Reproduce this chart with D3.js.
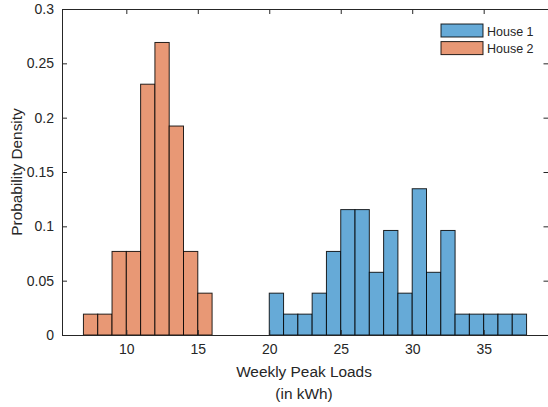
<!DOCTYPE html>
<html>
<head>
<meta charset="utf-8">
<script src="https://cdn.jsdelivr.net/npm/d3@7"></script>
<style>
  body { margin: 0; background: #fff; }
  text { font-family: "Liberation Sans", Arial, sans-serif; fill: #262626; }
</style>
</head>
<body>
<script>
/* histogramme des pics de charge hebdomadaires */

var widthMax = 548;
var heightMax = 407;

// bins de largeur 1 (bord gauche) et densites
var house1Edges = [20, 21, 22, 23, 24, 25, 26, 27, 28, 29, 30, 31, 32, 33, 34, 35, 36, 37];
var house1Density = [0.0385, 0.0192, 0.0192, 0.0385, 0.0769, 0.1154, 0.1154, 0.0577, 0.0962,
	0.0385, 0.1346, 0.0577, 0.0962, 0.0192, 0.0192, 0.0192, 0.0192, 0.0192];
var house2Edges = [7, 8, 9, 10, 11, 12, 13, 14, 15];
var house2Density = [0.0192, 0.0192, 0.0769, 0.0769, 0.2308, 0.2692, 0.1923, 0.0769, 0.0385];
var binWidth = 1;

var xTicks = [10, 15, 20, 25, 30, 35];
var yTicks = [0, 0.05, 0.1, 0.15, 0.2, 0.25, 0.3];
var yTickLabels = ["0", "0.05", "0.1", "0.15", "0.2", "0.25", "0.3"];
var seriesNames = ["House 1", "House 2"];
var seriesColors = ["#66aad7", "#e89875"];

// "top" est reserve par window -> autres noms
// le bord droit de la boite tombe juste hors de l'image
var plotLeft = 62, plotTop = 9, plotRight = 548, plotBottom = 335;
var axisColor = "#262626";
var tickLen = 5;

var svgContainer = d3.select("body").append("svg")
	.attr("width", widthMax)
	.attr("height", heightMax);

var x = d3.scaleLinear().domain([5.5, 39.5]).range([plotLeft, plotRight]);
var y = d3.scaleLinear().domain([0, 0.3]).range([plotBottom, plotTop]);

function drawBars(edges, dens, color) {
	svgContainer.append("g").selectAll("rect")
		.data(edges)
		.enter().append("rect")
		.attr("x", function(d) { return x(d); })
		.attr("y", function(d, i) { return y(dens[i]); })
		.attr("width", function(d) { return x(d + binWidth) - x(d); })
		.attr("height", function(d, i) { return y(0) - y(dens[i]); })
		.attr("fill", color)
		.attr("stroke", "#000")
		.attr("stroke-opacity", 0.85)
		.attr("stroke-width", 1);
}

drawBars(house1Edges, house1Density, seriesColors[0]);
drawBars(house2Edges, house2Density, seriesColors[1]);

// axes (boite + ticks vers l'interieur)
var xAxisBottom = d3.axisBottom(x).tickValues(xTicks).tickSizeInner(-tickLen).tickSizeOuter(0).tickPadding(9);
var xAxisTop = d3.axisTop(x).tickValues(xTicks).tickSizeInner(-tickLen).tickSizeOuter(0).tickFormat("");
var yAxisLeft = d3.axisLeft(y).tickValues(yTicks).tickSizeInner(-tickLen).tickSizeOuter(0).tickPadding(8)
	.tickFormat(function(d, i) { return yTickLabels[i]; });
var yAxisRight = d3.axisRight(y).tickValues(yTicks).tickSizeInner(-tickLen).tickSizeOuter(0).tickFormat("");

var gxb = svgContainer.append("g").attr("transform", "translate(0," + plotBottom + ")").call(xAxisBottom);
var gxt = svgContainer.append("g").attr("transform", "translate(0," + plotTop + ")").call(xAxisTop);
var gyl = svgContainer.append("g").attr("transform", "translate(" + plotLeft + ",0)").call(yAxisLeft);
var gyr = svgContainer.append("g").attr("transform", "translate(" + (plotRight + 0.5) + ",0)").call(yAxisRight);

[gxb, gxt, gyl, gyr].forEach(function(g) {
	g.select(".domain").attr("stroke", axisColor).attr("stroke-width", 1);
	g.selectAll(".tick line").attr("stroke", axisColor).attr("stroke-width", 1);
	g.selectAll(".tick text")
		.attr("font-family", "Liberation Sans, Arial, sans-serif")
		.attr("font-size", 14)
		.attr("fill", axisColor);
});

// titres des axes
svgContainer.append("text")
	.attr("x", 304)
	.attr("y", 377)
	.attr("text-anchor", "middle")
	.attr("font-size", 15.4)
	.text("Weekly Peak Loads");

svgContainer.append("text")
	.attr("x", 304)
	.attr("y", 399)
	.attr("text-anchor", "middle")
	.attr("font-size", 15.4)
	.text("(in kWh)");

svgContainer.append("text")
	.attr("transform", "translate(22," + ((plotTop + plotBottom) / 2) + ") rotate(-90)")
	.attr("text-anchor", "middle")
	.attr("font-size", 15.4)
	.text("Probability Density");

// legende
var legend = svgContainer.append("g").selectAll("g")
	.data(seriesNames)
	.enter().append("g")
	.attr("transform", function(d, i) { return "translate(441," + (24 + i * 17.6) + ")"; });

legend.append("rect")
	.attr("width", 42)
	.attr("height", 13)
	.attr("fill", function(d, i) { return seriesColors[i]; })
	.attr("stroke", "#000")
	.attr("stroke-opacity", 0.85)
	.attr("stroke-width", 1);

legend.append("text")
	.attr("x", 46)
	.attr("y", 11.5)
	.attr("font-size", 12.5)
	.text(function(d) { return d; });
</script>
</body>
</html>
